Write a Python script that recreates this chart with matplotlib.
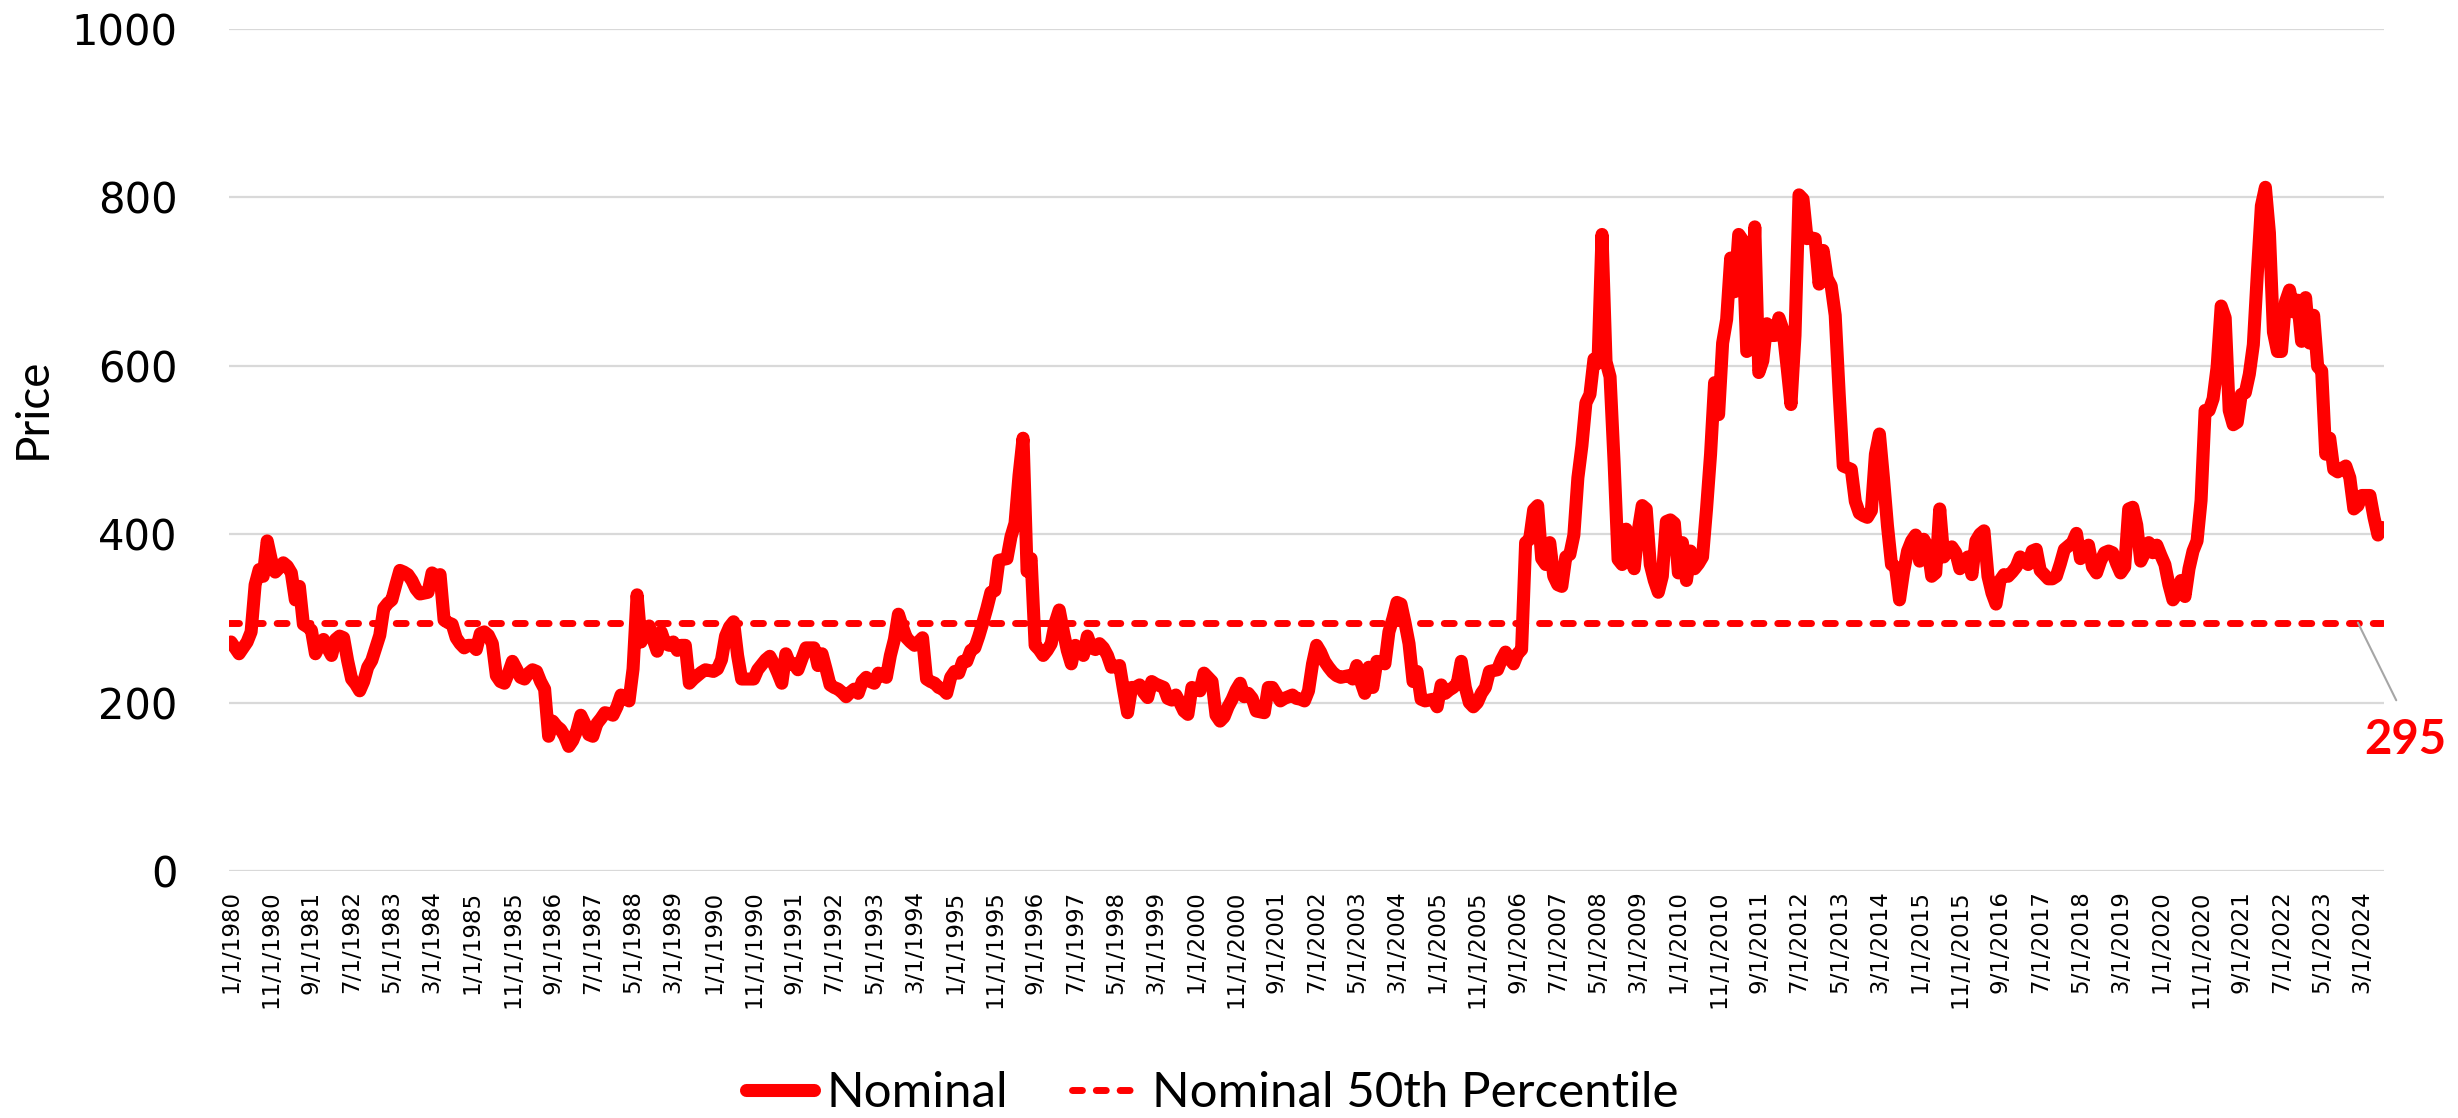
import numpy as np
import pandas as pd
import matplotlib
matplotlib.use("Agg")
from matplotlib import pyplot as plt
from matplotlib.lines import Line2D

# monthly nominal price, Jan 1980 .. Aug 2024
y1980s = [
    272, 265, 258, 265, 272, 284, 340, 358, 350, 392, 370, 355,   # 1980
    360, 366, 362, 354, 322, 338, 293, 290, 286, 258, 268, 275,   # 1981
    265, 256, 275, 279, 277, 250, 228, 222, 214, 225, 242, 250,   # 1982
    265, 280, 312, 318, 322, 340, 357, 355, 352, 345, 335, 329,   # 1983
    330, 331, 354, 350, 352, 298, 295, 293, 277, 270, 265, 268,   # 1984
    268, 263, 282, 284, 280, 270, 232, 225, 223, 235, 249, 240,   # 1985
    230, 228, 235, 239, 237, 225, 216, 160, 178, 172, 168, 160,   # 1986
    148, 155, 167, 185, 175, 162, 160, 175, 181, 188, 187, 185,   # 1987
    195, 209, 205, 202, 240, 328, 272, 285, 291, 275, 261, 284,   # 1988
    270, 268, 272, 262, 268, 268, 223, 228, 232, 236, 239, 238,   # 1989
]
y1990s = [
    237, 240, 251, 279, 290, 296, 256, 228, 228, 228, 228, 239,   # 1990
    245, 251, 255, 246, 235, 223, 258, 246, 246, 239, 252, 265,   # 1991
    265, 265, 244, 258, 240, 221, 218, 216, 212, 207, 212, 216,   # 1992
    211, 225, 230, 225, 223, 235, 232, 230, 256, 275, 305, 290,   # 1993
    277, 272, 268, 272, 277, 228, 225, 223, 218, 216, 211, 230,   # 1994
    237, 235, 249, 249, 262, 265, 279, 295, 312, 331, 333, 369,   # 1995
    370, 371, 397, 413, 470, 514, 356, 371, 268, 263, 256, 262,   # 1996
    270, 295, 310, 285, 262, 246, 268, 262, 256, 279, 265, 263,   # 1997
    270, 265, 256, 242, 243, 244, 215, 188, 218, 218, 221, 212,   # 1998
    206, 225, 222, 220, 218, 205, 203, 209, 200, 190, 186, 218,   # 1999
]
y2000s = [
    216, 214, 235, 230, 225, 185, 178, 183, 195, 204, 215, 223,   # 2000
    207, 211, 205, 190, 189, 188, 218, 218, 210, 202, 205, 207,   # 2001
    209, 205, 204, 202, 214, 246, 268, 260, 249, 242, 236, 232,   # 2002
    230, 231, 232, 228, 244, 225, 211, 242, 218, 249, 248, 246,   # 2003
    284, 300, 319, 317, 295, 270, 225, 237, 204, 202, 203, 204,   # 2004
    195, 221, 211, 215, 218, 223, 249, 218, 200, 195, 200, 211,   # 2005
    218, 237, 238, 239, 251, 260, 252, 246, 258, 263, 390, 394,   # 2006
    429, 434, 371, 364, 390, 350, 340, 338, 373, 376, 399, 467,   # 2007
    505, 556, 566, 608, 603, 756, 605, 587, 486, 370, 364, 406,   # 2008
    373, 359, 404, 434, 430, 364, 345, 331, 350, 415, 417, 413,   # 2009
]
y2010s = [
    354, 390, 345, 380, 359, 365, 373, 430, 495, 580, 542, 627,   # 2010
    655, 728, 688, 756, 749, 617, 620, 765, 592, 606, 650, 636,   # 2011
    636, 657, 643, 600, 554, 636, 803, 798, 751, 752, 751, 697,   # 2012
    737, 704, 695, 660, 566, 481, 479, 477, 439, 425, 422, 420,   # 2013
    428, 495, 519, 467, 410, 364, 361, 322, 355, 380, 392, 399,   # 2014
    368, 394, 385, 350, 354, 430, 373, 380, 385, 378, 359, 368,   # 2015
    373, 352, 392, 400, 404, 350, 330, 317, 345, 352, 350, 355,   # 2016
    361, 373, 368, 364, 380, 382, 357, 352, 347, 347, 350, 365,   # 2017
    382, 386, 390, 401, 371, 380, 387, 361, 354, 368, 378, 380,   # 2018
    378, 365, 354, 361, 430, 432, 411, 368, 378, 390, 378, 387,   # 2019
]
y2020s = [
    375, 364, 340, 322, 329, 345, 326, 359, 380, 392, 440, 547,   # 2020
    547, 561, 599, 671, 657, 547, 530, 533, 566, 568, 590, 625,   # 2021
    710, 790, 812, 758, 640, 617, 617, 676, 690, 664, 678, 629,   # 2022
    681, 627, 660, 599, 594, 495, 514, 477, 474, 478, 481, 467,   # 2023
    430, 434, 446, 446, 446, 420, 399, 408,                       # 2024
]
nominal = y1980s + y1990s + y2000s + y2010s + y2020s
p50 = 295

dates = pd.date_range("1980-01-01", periods=len(nominal), freq="MS")
labels = [f"{d.month}/1/{d.year}" for d in dates]

W, H = 2458, 1118
fig = plt.figure(figsize=(W / 100, H / 100), dpi=100)
ax = fig.add_axes([229 / W, 1 - 871 / H, (2384 - 229) / W, (871 - 29) / H])

red = "#ff0000"
main_lw = 9.4
dash_lw = 5
dash_ls = (0, (1.43, 2.0))
x = np.arange(len(nominal))
ax.plot(x, nominal, color=red, lw=main_lw, solid_joinstyle="round",
        solid_capstyle="round", zorder=3)
ax.axhline(p50, color=red, lw=dash_lw, ls=dash_ls,
           dash_capstyle="round", zorder=2)

ax.set_xlim(-0.5, len(nominal) - 0.5)
ax.set_ylim(0, 1000)
ax.set_yticks(range(0, 1001, 200))
ax.set_xticks(x[::10])
ax.set_xticklabels(labels[::10], rotation=90, fontsize=16.5,
                   family="DejaVu Sans")
for t in ax.get_yticklabels():
    t.set_fontsize(30)
ax.tick_params(axis="both", length=0)
ax.tick_params(axis="y", pad=37)
ax.tick_params(axis="x", pad=14)
ax.grid(axis="y", color="#d9d9d9", lw=1.6)
ax.set_axisbelow(True)
for s in ax.spines.values():
    s.set_visible(False)

fig.text(33 / W, 1 - 408 / H, "Price", rotation=90, ha="center",
         va="center", fontsize=33, family="Lato")

ax.annotate(str(p50), xy=(len(nominal) - 7, p50), xycoords="data",
            xytext=(2405 / W, 1 - 740 / H), textcoords="figure fraction",
            ha="center", va="center", color=red, fontsize=34,
            fontweight="bold", family="Lato",
            arrowprops=dict(arrowstyle="-", color="#a6a6a6", lw=1.5,
                            relpos=(0.5, 1.0), shrinkA=12, shrinkB=0),
            annotation_clip=False)

handles = [
    Line2D([], [], color=red, lw=main_lw, solid_capstyle="round"),
    Line2D([], [], color=red, lw=dash_lw, ls=dash_ls,
           dash_capstyle="round"),
]
fig.legend(handles, ["Nominal", "Nominal 50th Percentile"],
           loc="center left", bbox_to_anchor=(746 / W, 1 - 1093 / H),
           ncol=2, frameon=False, borderpad=0, borderaxespad=0,
           prop={"family": "Lato", "size": 35.5}, handlelength=1.38,
           handletextpad=0.25, columnspacing=1.3)

fig.savefig("out.png", dpi=100)
